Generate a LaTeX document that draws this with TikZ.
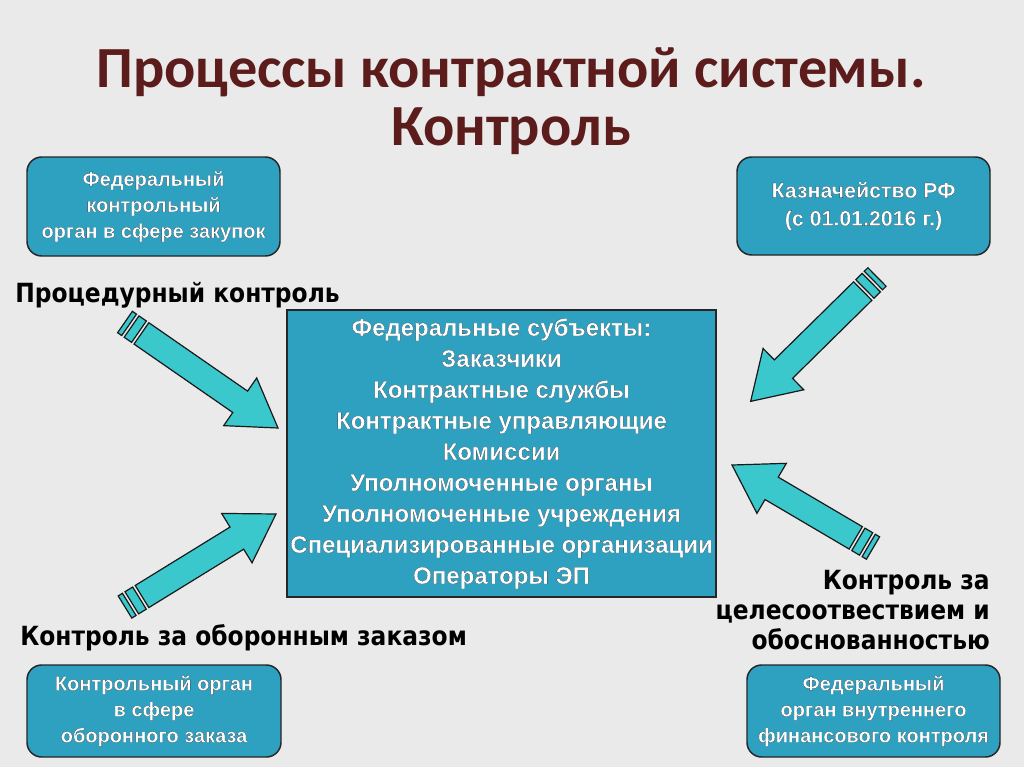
\documentclass[tikz,border=0pt]{standalone}
\usepackage{fontspec}
\setmainfont{Liberation Sans}
\newfontfamily\titlefont{Carlito}
\newfontfamily\labelfont[FakeStretch=0.885]{DejaVu Sans}
\definecolor{bgc}{RGB}{234,234,234}
\definecolor{boxc}{RGB}{46,160,192}
\definecolor{arrc}{RGB}{58,200,204}
\definecolor{titlec}{RGB}{92,28,28}
\newcommand\outl[1]{\special{pdf:literal direct 2 Tr 0.07 w 0.1 0.1 0.1 RG}#1\special{pdf:literal direct 0 Tr}}
\newcommand\blockarrow[2]{%
  \pgfpointdiff{\pgfpointanchor{#1}{center}}{\pgfpointanchor{#2}{center}}%
  \pgfgetlastxy{\bdx}{\bdy}%
  \pgfmathsetmacro\bang{atan2(\bdy,\bdx)}%
  \pgfmathsetmacro\blen{veclen(\bdx,\bdy)/0.75}%
  \begin{scope}[shift={(#1)},rotate=\bang]
    \filldraw[arrowline] (0,-13) rectangle (5,13);
    \filldraw[arrowline] (8,-13) rectangle (17,13);
    \filldraw[arrowline] (20,-13) -- ({\blen-46},-13) -- ({\blen-46},-29) -- (\blen,0)
      -- ({\blen-46},29) -- ({\blen-46},13) -- (20,13) -- cycle;
  \end{scope}}
\tikzset{
  x=0.75pt,y=0.75pt,
  arrowline/.style={fill=arrc,draw=black!90,line width=0.9pt,line join=miter},
  sidebox/.style={draw=black!85,line width=1.1pt,fill=boxc,rounded corners=11pt,
    inner sep=0pt,align=center,text=white},
  sidefont/.style={font=\bfseries\fontsize{15}{19.5}\selectfont},
  mainbox/.style={draw=black!85,line width=1.1pt,fill=boxc,inner sep=0pt,align=center,
    text=white,font=\bfseries\fontsize{18}{23.25}\selectfont},
  lab/.style={inner sep=0pt,text=black,font=\labelfont\bfseries\fontsize{19.8}{22.5}\selectfont},
}
\begin{document}
\begin{tikzpicture}
\fill[bgc] (0,0) rectangle (1024,-767);
\useasboundingbox (0,0) rectangle (1024,-767);

\node[text=titlec,align=center,font=\titlefont\bfseries\fontsize{43.7}{43.5}\selectfont]
  (title) at (511,-101) {Процессы контрактной системы.\\Контроль};

\node[sidebox,sidefont,minimum width=189.75pt,minimum height=74.25pt] (tl) at (153.5,-206.5)
  {\outl{Федеральный\\контрольный\\орган в сфере закупок}};
\node[sidebox,font=\bfseries\fontsize{16}{21}\selectfont,minimum width=189.75pt,minimum height=73.5pt] (tr) at (863.5,-206)
  {\outl{Казначейство РФ\\(с 01.01.2016 г.)}};
\node[sidebox,sidefont,minimum width=190.5pt,minimum height=69pt] (bl) at (154,-711)
  {\outl{Контрольный орган\\в сфере\\оборонного заказа}};
\node[sidebox,sidefont,minimum width=189.75pt,minimum height=69pt] (br) at (873.5,-711)
  {\outl{Федеральный\\орган внутреннего\\финансового контроля}};

\node[mainbox,minimum width=321.75pt,minimum height=215.25pt] (center) at (501.5,-453.5)
  {\outl{Федеральные субъекты:\\Заказчики\\Контрактные службы\\Контрактные управляющие\\Комиссии\\Уполномоченные органы\\Уполномоченные учреждения\\Специализированные организации\\Операторы ЭП}};

\node[lab,anchor=base west] (lab1) at (15,-302) {Процедурный контроль};
\node[lab,anchor=base west] (lab2) at (20,-645) {Контроль за оборонным заказом};
\node[lab,anchor=north east,align=right] (lab3) at (990,-570)
  {Контроль за\\целесоотвествием и\\обоснованностью};

\coordinate (a1s) at (125,-322);
\coordinate (a1e) at (278,-428);
\coordinate (a2s) at (877,-277);
\coordinate (a2e) at (750,-402);
\coordinate (a3s) at (125,-607);
\coordinate (a3e) at (276,-514);
\coordinate (a4s) at (873,-548);
\coordinate (a4e) at (732,-465);
\blockarrow{a1s}{a1e}
\blockarrow{a2s}{a2e}
\blockarrow{a3s}{a3e}
\blockarrow{a4s}{a4e}
\end{tikzpicture}
\end{document}
